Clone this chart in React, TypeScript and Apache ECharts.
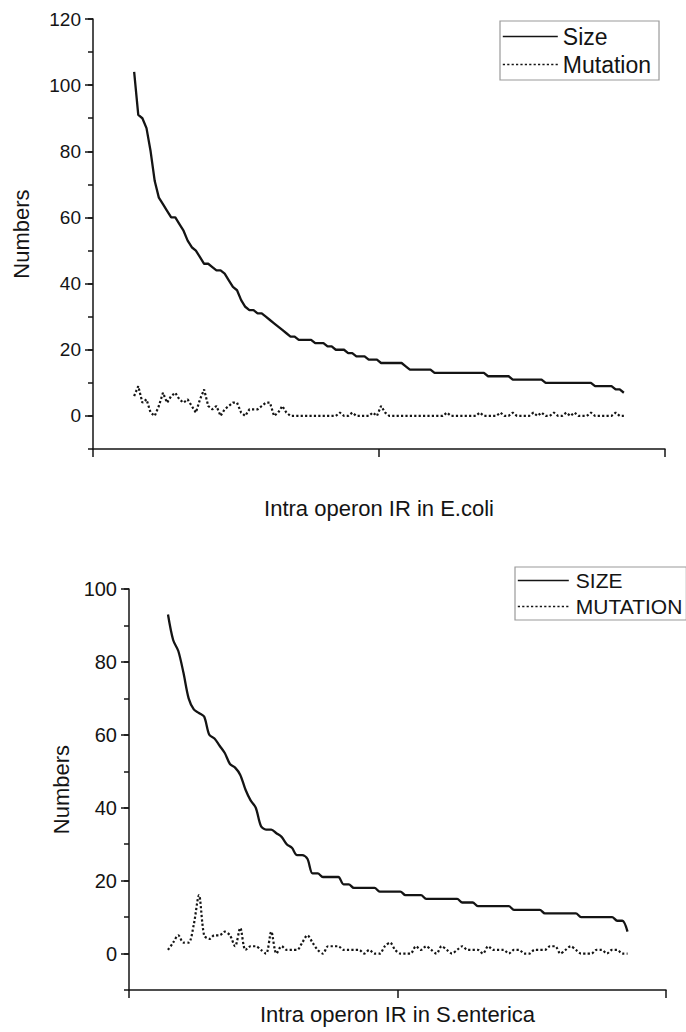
import React, { useEffect, useRef } from "react";
import * as echarts from "echarts";

// ---------- Top panel (E.coli) ----------
const topSize = [
  104, 91, 90, 87, 80, 71, 66, 64, 62, 60,
  60, 58, 56, 53, 51, 50, 48, 46, 46, 45,
  44, 44, 43, 41, 39, 38, 35, 33, 32, 32,
  31, 31, 30, 29, 28, 27, 26, 25, 24, 24,
  23, 23, 23, 23, 22, 22, 22, 21, 21, 20,
  20, 20, 19, 19, 18, 18, 18, 17, 17, 17,
  16, 16, 16, 16, 16, 16, 15, 14, 14, 14,
  14, 14, 14, 13, 13, 13, 13, 13, 13, 13,
  13, 13, 13, 13, 13, 13, 12, 12, 12, 12,
  12, 12, 11, 11, 11, 11, 11, 11, 11, 11,
  10, 10, 10, 10, 10, 10, 10, 10, 10, 10,
  10, 10, 9, 9, 9, 9, 9, 8, 8, 7,
];
const topMutation = [
  6, 9, 4, 5, 1, 0, 3, 7, 4, 6,
  7, 5, 4, 5, 3, 1, 5, 8, 3, 2,
  3, 0, 2, 3, 4, 4, 1, 0, 2, 2,
  2, 3, 4, 4, 0, 1, 3, 1, 0, 0,
  0, 0, 0, 0, 0, 0, 0, 0, 0, 0,
  1, 0, 0, 1, 0, 0, 0, 0, 1, 0,
  3, 1, 0, 0, 0, 0, 0, 0, 0, 0,
  0, 0, 0, 0, 0, 0, 1, 0, 0, 0,
  0, 0, 0, 0, 1, 0, 0, 0, 0, 1,
  0, 0, 1, 0, 0, 0, 0, 1, 0, 1,
  0, 0, 1, 0, 0, 1, 0, 1, 0, 0,
  0, 1, 0, 0, 0, 0, 0, 1, 0, 0,
];
const topYLabels = [0, 20, 40, 60, 80, 100, 120];
const topLegend = ["Size", "Mutation"];
const topXTitle = "Intra operon IR in E.coli";

// ---------- Bottom panel (S.enterica) ----------
const bottomSize = [
  93, 86, 83, 77, 70, 67, 66, 65, 60, 59,
  57, 55, 52, 51, 49, 45, 42, 40, 35, 34,
  34, 33, 32, 30, 29, 27, 27, 26, 22, 22,
  21, 21, 21, 21, 19, 19, 18, 18, 18, 18,
  18, 17, 17, 17, 17, 17, 16, 16, 16, 16,
  15, 15, 15, 15, 15, 15, 15, 14, 14, 14,
  13, 13, 13, 13, 13, 13, 13, 12, 12, 12,
  12, 12, 12, 11, 11, 11, 11, 11, 11, 11,
  10, 10, 10, 10, 10, 10, 10, 9, 9, 6,
];
const bottomMutation = [
  1, 3, 5, 3, 3, 8, 16, 5, 4, 5,
  5, 6, 5, 2, 7, 1, 2, 2, 1, 0,
  6, 0, 2, 1, 1, 1, 3, 5, 3, 1,
  0, 2, 2, 2, 1, 1, 1, 1, 0, 1,
  0, 0, 2, 3, 1, 0, 0, 0, 2, 1,
  2, 1, 0, 2, 1, 0, 1, 2, 1, 1,
  1, 0, 2, 1, 1, 1, 0, 1, 1, 0,
  0, 1, 1, 1, 2, 2, 0, 1, 2, 1,
  0, 0, 0, 1, 1, 0, 1, 1, 0, 0,
];
const bottomYLabels = [0, 20, 40, 60, 80, 100];
const bottomLegend = ["SIZE", "MUTATION"];
const bottomXTitle = "Intra operon IR in S.enterica";

const yTitle = "Numbers";

// x-axis layout (index offset inside the axis range)
const TOP_X_MAX = 139;
const TOP_X_START = 10;
const BOT_X_MAX = 104;
const BOT_X_START = 7.55;

const FONT = "'Liberation Sans', Arial, Helvetica, sans-serif";
const INK = "#141414";

export default function App() {
  const ref = useRef<HTMLDivElement>(null);

  useEffect(() => {
    if (!ref.current) return;
    const chart = echarts.init(ref.current, null, { renderer: "svg" });
    const axisLine = { color: INK, width: 1.5 };

    const majorY = (gi: number, max: number, labels: number[], gap: number, fs: number) => ({
      type: "value",
      gridIndex: gi,
      min: -10,
      max,
      interval: 10,
      name: yTitle,
      nameLocation: "middle",
      nameGap: gap,
      nameTextStyle: { fontFamily: FONT, fontSize: 22, color: INK },
      axisLine: { show: true, onZero: false, lineStyle: axisLine },
      axisTick: { show: true, length: 8, customValues: labels, lineStyle: axisLine },
      axisLabel: { show: true, customValues: labels, fontFamily: FONT, fontSize: fs, color: INK, margin: 12 },
      splitLine: { show: false },
    });
    const minorY = (gi: number, max: number) => ({
      type: "value",
      gridIndex: gi,
      min: -10,
      max,
      interval: 10,
      axisLine: { show: false, onZero: false },
      axisTick: { show: true, length: 5, lineStyle: axisLine },
      axisLabel: { show: false },
      splitLine: { show: false },
    });
    const mainX = (gi: number, max: number, name: string, gap: number) => ({
      type: "value",
      gridIndex: gi,
      min: 0,
      max,
      interval: max / 2,
      name,
      nameLocation: "middle",
      nameGap: gap,
      nameTextStyle: { fontFamily: FONT, fontSize: 22, color: INK },
      axisLine: { show: true, onZero: false, lineStyle: axisLine },
      axisTick: { show: true, length: 8, lineStyle: axisLine },
      axisLabel: { show: false },
      splitLine: { show: false },
    });
    const hiddenX = (gi: number, max: number) => ({
      type: "value",
      gridIndex: gi,
      min: 0,
      max,
      show: false,
      splitLine: { show: false },
    });

    const solid = { color: INK, width: 2.3, type: "solid" };
    const dotted = { color: INK, width: 2.2, type: [2.2, 2.2] };

    const legendBase = {
      orient: "vertical",
      itemHeight: 14,
      itemGap: 5,
      selectedMode: false,
      borderColor: "#9a9a9a",
      borderWidth: 1.2,
      backgroundColor: "#ffffff",
      itemStyle: { opacity: 0, borderWidth: 0 },
      lineStyle: { width: 1.6 },
    };

    chart.setOption({
      animation: false,
      backgroundColor: "#ffffff",
      grid: [
        { left: 93, top: 19, width: 572, height: 430 },
        { left: 93, top: 19, width: 572, height: 430 },
        { left: 129, top: 589, width: 537, height: 401 },
        { left: 129, top: 589, width: 537, height: 401 },
      ],
      xAxis: [
        mainX(0, TOP_X_MAX, topXTitle, 48),
        hiddenX(1, TOP_X_MAX),
        mainX(2, BOT_X_MAX, bottomXTitle, 13),
        hiddenX(3, BOT_X_MAX),
      ],
      yAxis: [
        majorY(0, 120, topYLabels, 61, 19),
        minorY(1, 120),
        majorY(2, 100, bottomYLabels, 48, 20),
        minorY(3, 100),
      ],
      legend: [
        {
          ...legendBase,
          data: topLegend,
          left: 500,
          top: 21,
          itemWidth: 55,
          padding: [4, 8, 4, 2],
          textStyle: { fontFamily: FONT, fontSize: 23, color: INK },
        },
        {
          ...legendBase,
          data: bottomLegend,
          left: 515,
          top: 567,
          itemWidth: 51,
          itemGap: 5,
          padding: [3, 4, 3, 2],
          textStyle: { fontFamily: FONT, fontSize: 21, color: INK, padding: [0, 0, 0, 2] },
        },
      ],
      series: [
        {
          name: topLegend[0],
          type: "line",
          xAxisIndex: 0,
          yAxisIndex: 0,
          symbol: "none",
          lineStyle: solid,
          itemStyle: { color: INK },
          data: topSize.map((v, i) => [i + TOP_X_START, v]),
        },
        {
          name: topLegend[1],
          type: "line",
          xAxisIndex: 0,
          yAxisIndex: 0,
          symbol: "none",
          lineStyle: dotted,
          itemStyle: { color: INK },
          data: topMutation.map((v, i) => [i + TOP_X_START, v]),
        },
        {
          name: bottomLegend[0],
          type: "line",
          xAxisIndex: 2,
          yAxisIndex: 2,
          symbol: "none",
          smooth: 0.3,
          lineStyle: solid,
          itemStyle: { color: INK },
          data: bottomSize.map((v, i) => [i + BOT_X_START, v]),
        },
        {
          name: bottomLegend[1],
          type: "line",
          xAxisIndex: 2,
          yAxisIndex: 2,
          symbol: "none",
          smooth: 0.3,
          lineStyle: dotted,
          itemStyle: { color: INK },
          data: bottomMutation.map((v, i) => [i + BOT_X_START, v]),
        },
      ],
    });

    return () => chart.dispose();
  }, []);

  return (
    <div
      ref={ref}
      style={{ position: "absolute", left: 0, top: 0, width: 686, height: 1032, background: "#fff" }}
    />
  );
}
